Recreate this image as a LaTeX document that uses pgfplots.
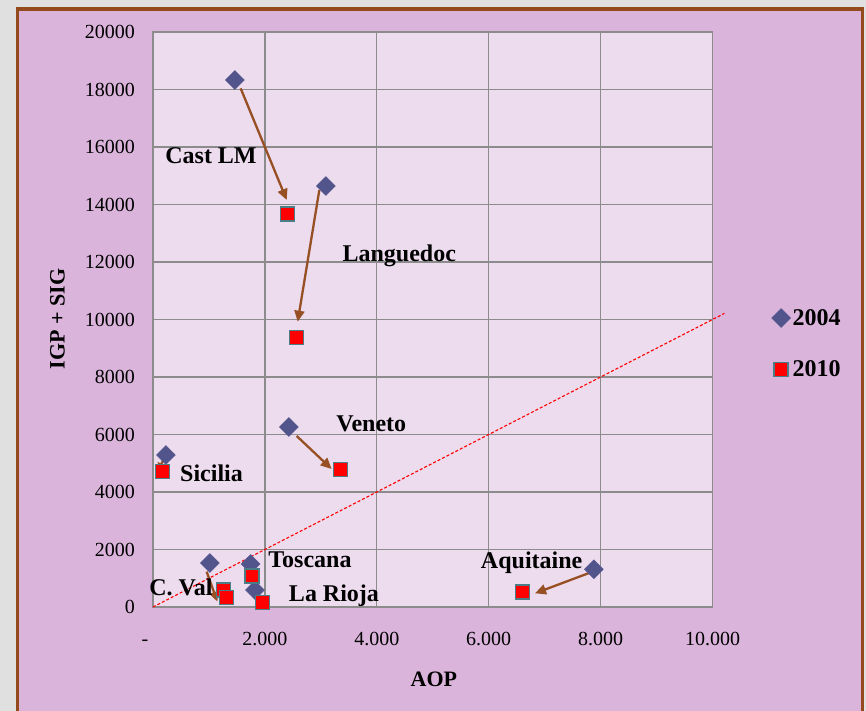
\documentclass[border=0pt]{standalone}
\usepackage{pgfplots}
\pgfplotsset{compat=1.18}
\usepackage{fontspec}
\setmainfont{Liberation Serif}
\usetikzlibrary{arrows.meta}
\definecolor{pagegray}{RGB}{224,224,224}
\definecolor{framebrown}{RGB}{149,74,30}
\definecolor{outerpurple}{RGB}{218,180,219}
\definecolor{plotpink}{RGB}{237,219,238}
\definecolor{gridgray}{RGB}{140,140,140}
\definecolor{dia}{RGB}{82,84,140}
\definecolor{sqborder}{RGB}{75,125,135}
\definecolor{arrbrown}{RGB}{150,80,35}
\newcommand{\fs}[1]{\fontsize{#1bp}{#1bp}\selectfont}
\begin{document}
\begin{tikzpicture}
\useasboundingbox (-153bp,-104bp) rectangle (713bp,607bp);
\clip (-153bp,-104bp) rectangle (713bp,607bp);
\fill[pagegray] (-153bp,-104bp) rectangle (713bp,607bp);
\filldraw[fill=outerpurple, draw=framebrown, line width=3.5bp] (-135.5bp,-130bp) rectangle (709.5bp,598bp);
\begin{axis}[
  at={(0,0)}, anchor=south west,
  width=559.5bp, height=575bp, scale only axis,
  xmin=0, xmax=10000, ymin=0, ymax=20000,
  scaled ticks=false,
  axis background/.style={fill=plotpink},
  axis line style={gridgray, line width=1.3bp},
  grid=major,
  grid style={gridgray, line width=1.3bp},
  major tick length=0pt,
  xtick={0,2000,4000,6000,8000,10000},
  xticklabels={{-\hspace*{16bp}},2.000,4.000,6.000,8.000,10.000},
  ytick={0,2000,4000,6000,8000,10000,12000,14000,16000,18000,20000},
  yticklabels={0,2000,4000,6000,8000,10000,12000,14000,16000,18000,20000},
  /pgf/number format/assume math mode=true,
  xticklabel style={font=\fs{20}, anchor=base, inner sep=0pt, yshift=-38bp},
  yticklabel style={font=\fs{20}, anchor=east, inner sep=0pt, xshift=-18bp},
  xlabel={AOP},
  ylabel={IGP + SIG},
  xlabel style={font=\bfseries\fs{22}, at={(axis description cs:0.502,-0.1252)}, anchor=center},
  ylabel style={font=\bfseries\fs{22}, at={(axis description cs:-0.1707,0.501)}, anchor=center, rotate=0},
  clip=false,
  legend style={draw=none, fill=none, font=\bfseries\fs{24}, at={(axis description cs:1.10,0.525)}, anchor=north west, row sep=30bp},
  legend cell align=left,
]
\addplot[only marks, mark=square*, mark size=6.7bp, mark options={rotate=45, fill=dia, draw=dia}] coordinates {
 (1464,18330) (3089,14643) (2429,6261) (232,5287) (1018,1530) (1746,1496) (1823,591) (7880,1311)
};
\addlegendentry{2004}
\addplot[only marks, mark=square*, mark size=7bp, mark options={fill=red, draw=sqborder, line width=1.3bp}] coordinates {
 (2405,13670) (2560,9380) (3345,4790) (166,4707) (1256,591) (1317,337) (1768,1078) (1952,150) (6607,522)
};
\addlegendentry{2010}
\addplot[red, dashed, line width=1.1bp, dash pattern=on 3bp off 2bp, forget plot] coordinates {(0,0) (10214,10214)};
\addplot[arrbrown, line width=2.3bp, -{Triangle[length=11bp,width=10bp]}, forget plot] coordinates {(1567,18040) (2390,14157)};
\addplot[arrbrown, line width=2.3bp, -{Triangle[length=11bp,width=10bp]}, forget plot] coordinates {(2973,14504) (2586,9924)};
\addplot[arrbrown, line width=2.3bp, -{Triangle[length=11bp,width=10bp]}, forget plot] coordinates {(2568,5948) (3193,4800)};
\addplot[arrbrown, line width=2.3bp, -{Triangle[length=7bp,width=8bp]}, forget plot] coordinates {(185,5113) (95,4765)};
\addplot[arrbrown, line width=2.3bp, -{Triangle[length=10bp,width=9bp]}, forget plot] coordinates {(959,1229) (1150,186)};
\addplot[arrbrown, line width=2.3bp, -{Triangle[length=11bp,width=10bp]}, forget plot] coordinates {(7810,1194) (6828,476)};
\node[font=\bfseries\fs{24}, anchor=base, inner sep=0pt] at (axis cs:1037,15433) {Cast LM};
\node[font=\bfseries\fs{24}, anchor=base, inner sep=0pt] at (axis cs:4402,12010) {Languedoc};
\node[font=\bfseries\fs{24}, anchor=base, inner sep=0pt] at (axis cs:3902,6098) {Veneto};
\node[font=\bfseries\fs{24}, anchor=base, inner sep=0pt] at (axis cs:1046,4360) {Sicilia};
\node[font=\bfseries\fs{24}, anchor=base, inner sep=0pt] at (axis cs:2806,1367) {Toscana};
\node[font=\bfseries\fs{24}, anchor=base, inner sep=0pt] at (axis cs:500,383) {C. Val};
\node[font=\bfseries\fs{24}, anchor=base, inner sep=0pt] at (axis cs:3235,185) {La Rioja};
\node[font=\bfseries\fs{24}, anchor=base, inner sep=0pt] at (axis cs:6768,1322) {Aquitaine};
\end{axis}
\end{tikzpicture}
\end{document}
